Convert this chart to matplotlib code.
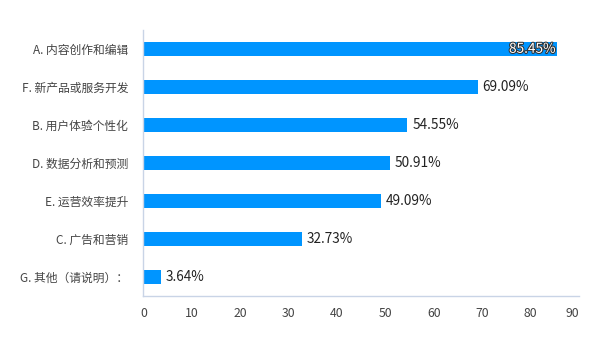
import matplotlib
matplotlib.use("Agg")
import matplotlib.pyplot as plt
import matplotlib.patheffects as pe

plt.rcParams['font.family'] = ['Noto Sans CJK SC', 'DejaVu Sans']

categories = [
    "A. 内容创作和编辑",
    "F. 新产品或服务开发",
    "B. 用户体验个性化",
    "D. 数据分析和预测",
    "E. 运营效率提升",
    "C. 广告和营销",
    "G. 其他（请说明）：",
]
values = [85.45, 69.09, 54.55, 50.91, 49.09, 32.73, 3.64]
x_ticks = [0, 10, 20, 30, 40, 50, 60, 70, 80, 90]

fig = plt.figure(figsize=(6, 3.4), dpi=100)
ax = fig.add_axes([0.239, 0.1294, 0.726, 0.783])

y = list(range(len(categories)))[::-1]
ax.barh(y, values, height=0.37, color="#0095ff")

for yi, v in zip(y, values):
    label = f"{v:.2f}%"
    if v > 80:
        ax.text(v - 0.3, yi, label, ha="right", va="center", fontsize=9.8,
                color="white",
                path_effects=[pe.withStroke(linewidth=1.5, foreground="#333333")])
    else:
        ax.text(v + 1, yi, label, ha="left", va="center", fontsize=9.8,
                color="#222222")

ax.set_yticks(y)
ax.set_yticklabels(categories, fontsize=8.5, color="#444444")
ax.set_xticks(x_ticks)
xlabels = ax.set_xticklabels([str(t) for t in x_ticks], fontsize=8.8, color="#444444")
# last tick label kept inside the axis, like the source
xlabels[-1].set_horizontalalignment("right")
ax.set_xlim(0, 90)
ax.set_ylim(-0.5, len(categories) - 0.5)

ax.tick_params(axis="both", length=0)
ax.tick_params(axis="y", pad=11)
ax.tick_params(axis="x", pad=8)
for s in ["top", "right"]:
    ax.spines[s].set_visible(False)
for s in ["left", "bottom"]:
    ax.spines[s].set_color("#c9d4e6")
    ax.spines[s].set_linewidth(1)

fig.savefig("out.png", dpi=100)
